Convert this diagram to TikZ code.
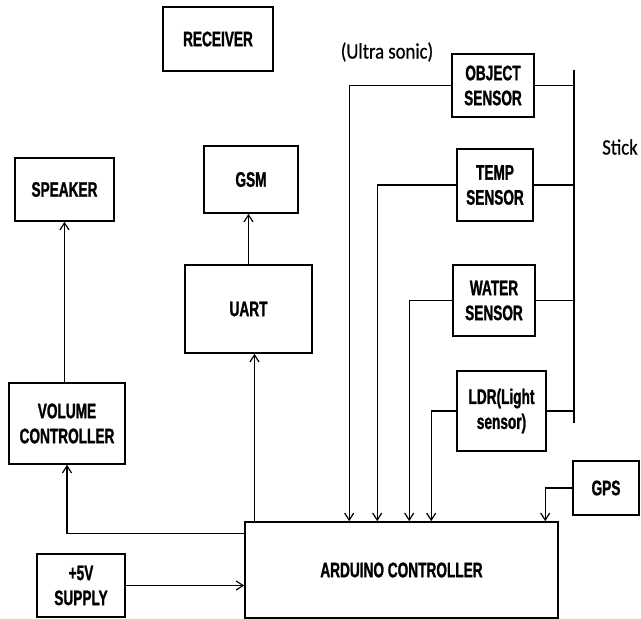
\documentclass[tikz,border=0pt]{standalone}
\usepackage{fontspec}
\newfontfamily\boxfont{Liberation Sans}[UprightFont=* Bold, FakeStretch=0.65, FakeBold=1.2]
\newfontfamily\lblfont{Carlito}[FakeStretch=0.85, FakeBold=0.6]
\usetikzlibrary{arrows.meta,calc}
\tikzset{
  box/.style={draw=black, line width=1.6pt, inner sep=0pt, align=center,
    font=\boxfont\fontsize{21}{25}\selectfont},
  conn/.style={draw=black, line width=1.2pt},
  arr/.style={conn, -{Straight Barb[length=7pt,width=9pt,line width=1.2pt]}},
  lbl/.style={font=\lblfont\fontsize{22}{24}\selectfont, inner sep=0pt}
}
\begin{document}
\begin{tikzpicture}[x=1pt,y=-1pt]
\useasboundingbox (0,0) rectangle (641,619);
\node[box, minimum width=110pt, minimum height=64pt] (receiver) at (218,39) {RECEIVER};
\node[box, minimum width=99pt, minimum height=63pt] (speaker) at (64.5,189.5) {SPEAKER};
\node[box, minimum width=94pt, minimum height=67pt] (gsm) at (251,179.5) {GSM};
\node[box, minimum width=127pt, minimum height=88pt] (uart) at (248.5,309) {UART};
\node[box, minimum width=116pt, minimum height=81pt] (volume) at (67,423.5) {VOLUME\\CONTROLLER};
\node[box, minimum width=88pt, minimum height=63pt] (supply) at (81,585.5) {+5V\\SUPPLY};
\node[box, minimum width=313pt, minimum height=96pt] (arduino) at (401.5,570) {ARDUINO CONTROLLER};
\node[box, minimum width=82pt, minimum height=63pt] (object) at (493,85.5) {OBJECT\\SENSOR};
\node[box, minimum width=76pt, minimum height=72pt] (temp) at (495,185) {TEMP\\SENSOR};
\node[box, minimum width=82pt, minimum height=71pt] (water) at (494,300.5) {WATER\\SENSOR};
\node[box, minimum width=89pt, minimum height=80pt] (ldr) at (501.5,411) {LDR(Light\\sensor)};
\node[box, minimum width=66pt, minimum height=54pt] (gps) at (606,488) {GPS};
\node[lbl] (ultra) at (387,52) {(Ultra sonic)};
\node[lbl] (stick) at (620,147) {Stick};
\coordinate (stickTop) at (574,70);
\coordinate (stickBot) at (574,423);
% stick
\draw[conn] (stickTop) -- (stickBot);
\draw[conn] (object.east) -- (object.east -| stickTop);
\draw[conn] (temp.east) -- (temp.east -| stickTop);
\draw[conn] (water.east) -- (water.east -| stickTop);
\draw[conn] (ldr.east) -- (ldr.east -| stickTop);
% sensors to arduino
\draw[arr] (object.west) -| ([xshift=105pt]arduino.north west);
\draw[arr] (temp.west) -| ([xshift=133pt]arduino.north west);
\draw[arr] (water.west) -| ([xshift=165pt]arduino.north west);
\draw[arr] (ldr.west) -| ([xshift=187pt]arduino.north west);
\draw[arr] (gps.west) -| ([xshift=301pt]arduino.north west);
% outputs
\draw[arr] ([xshift=6pt]uart.south |- arduino.north) -- ([xshift=6pt]uart.south);
\draw[arr] (uart.north) -- (uart.north |- gsm.south);
\draw[arr] ([yshift=-12pt]arduino.north west) -| (volume.south);
\draw[arr] (speaker.south |- volume.north) -- (speaker.south);
\draw[arr] (supply.east) -- (supply.east -| arduino.west);
\end{tikzpicture}
\end{document}
